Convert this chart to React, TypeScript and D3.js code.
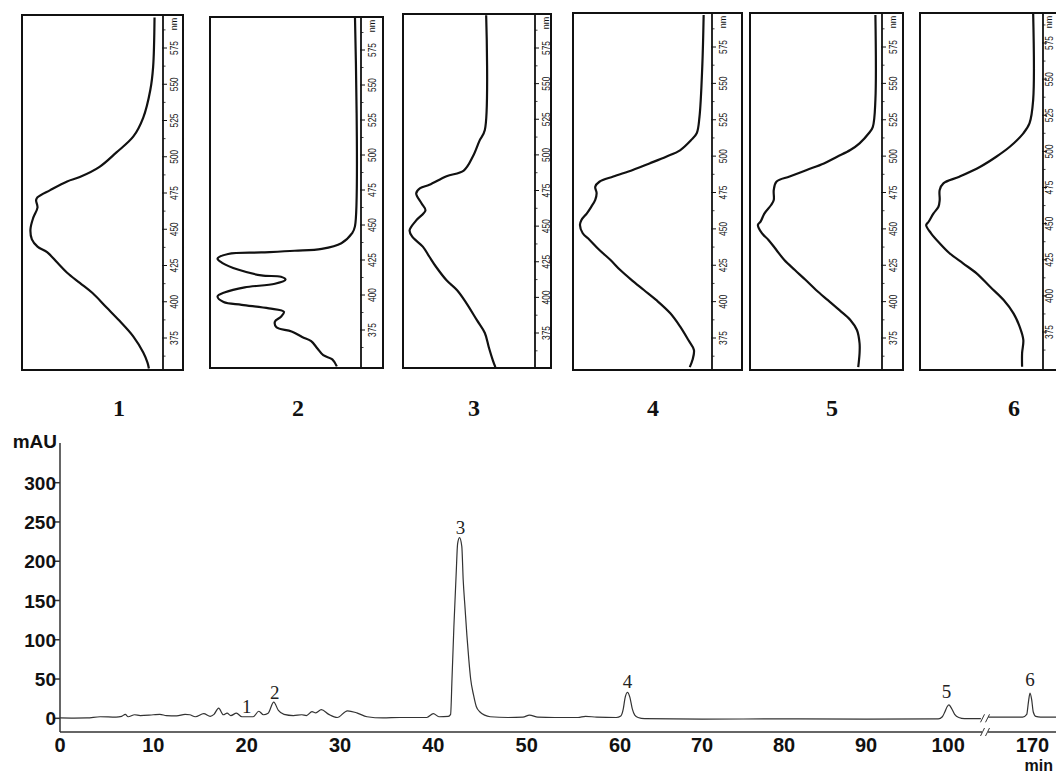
import React from 'react';
import * as d3 from 'd3';

// spectra (wavelength nm, relative absorbance 0..1 of panel width)
const panelLabels = ['1', '2', '3', '4', '5', '6'];
const nmTicks = [375, 400, 425, 450, 475, 500, 525, 550, 575];

const spec1Nm = [596, 562, 546, 527, 514, 503, 493, 486, 483, 477, 472, 470, 465, 458, 450, 443, 438, 434, 427, 420, 413, 406, 396, 387, 376, 365, 358, 354];
const spec1Abs = [0.06, 0.07, 0.09, 0.14, 0.21, 0.33, 0.45, 0.59, 0.68, 0.8, 0.89, 0.9, 0.89, 0.92, 0.94, 0.93, 0.89, 0.82, 0.75, 0.68, 0.59, 0.5, 0.4, 0.31, 0.21, 0.14, 0.11, 0.1];

const spec2Nm = [599, 449, 444, 437, 433, 431.6, 430.4, 429.3, 426, 423, 418, 414, 413, 411, 408, 405.5, 402, 399, 395, 393, 390.5, 388, 384.5, 381, 377, 374, 370, 367, 362, 357, 354, 349];
const spec2Abs = [0.04, 0.04, 0.06, 0.13, 0.26, 0.44, 0.66, 0.88, 0.95, 0.92, 0.81, 0.66, 0.53, 0.5, 0.57, 0.77, 0.9, 0.95, 0.91, 0.79, 0.61, 0.51, 0.53, 0.57, 0.56, 0.46, 0.39, 0.33, 0.29, 0.25, 0.19, 0.16];

const spec3Nm = [598, 517.5, 510, 499, 489, 485, 479, 476.6, 473, 466, 461, 454, 447, 442.6, 435.6, 428.5, 421.5, 412, 405, 396, 384, 375, 365, 356, 351];
const spec3Abs = [0.37, 0.38, 0.42, 0.47, 0.54, 0.67, 0.8, 0.87, 0.9, 0.86, 0.83, 0.9, 0.95, 0.93, 0.85, 0.8, 0.75, 0.67, 0.59, 0.52, 0.44, 0.38, 0.35, 0.32, 0.3];

const spec4Nm = [597, 561.5, 527, 515.7, 511, 504, 499.6, 495, 490.5, 486, 482.4, 479, 474.5, 470, 465, 460.7, 456, 452.7, 447, 442.4, 435.5, 428.6, 421.7, 415, 408, 401, 392, 383, 373.6, 366.8, 360, 355];
const spec4Abs = [0.06, 0.07, 0.09, 0.11, 0.15, 0.23, 0.33, 0.45, 0.57, 0.71, 0.81, 0.84, 0.83, 0.84, 0.87, 0.9, 0.94, 0.95, 0.93, 0.88, 0.81, 0.73, 0.66, 0.58, 0.49, 0.4, 0.3, 0.23, 0.17, 0.13, 0.14, 0.16];

const spec5Nm = [597, 538.6, 520, 515.7, 508.8, 504.2, 499.6, 495, 490.5, 486, 482.4, 476.7, 469.8, 466.4, 460.7, 455, 452.7, 447, 442.4, 435.5, 428.6, 421.7, 415, 408, 401, 394, 387.4, 380.5, 371.4, 364.5, 355];
const spec5Abs = [0.05, 0.05, 0.07, 0.1, 0.17, 0.24, 0.34, 0.44, 0.57, 0.7, 0.8, 0.82, 0.82, 0.84, 0.89, 0.92, 0.94, 0.91, 0.86, 0.8, 0.74, 0.66, 0.58, 0.5, 0.41, 0.32, 0.24, 0.19, 0.17, 0.17, 0.18];

const spec6Nm = [595.5, 535.5, 519.4, 512.5, 503.2, 496.3, 489.4, 482.5, 477.9, 473.3, 466.3, 461.7, 457.1, 451.3, 449, 443.3, 436.4, 429.5, 422.5, 415.6, 406.3, 397.1, 387.9, 378.7, 369.5, 360.3, 351];
const spec6Abs = [0.08, 0.08, 0.11, 0.16, 0.27, 0.38, 0.51, 0.68, 0.81, 0.84, 0.84, 0.85, 0.89, 0.93, 0.95, 0.91, 0.84, 0.76, 0.65, 0.54, 0.43, 0.32, 0.24, 0.19, 0.16, 0.17, 0.17];

// chromatogram
const yTicks = [0, 50, 100, 150, 200, 250, 300];
const xTicks = [0, 10, 20, 30, 40, 50, 60, 70, 80, 90, 100, 170];

const chromTimeA = [0, 1.5, 2.9, 4.3, 6.0, 6.6, 7.0, 7.3, 8.0, 8.6, 10.0, 10.7, 11.4, 12.5, 13.4, 13.9, 14.5, 15.4, 16.1, 16.5, 17.0, 17.5, 17.9, 18.3, 18.9, 19.5, 20.7, 21.3, 21.8, 22.3, 22.9, 23.4, 24.0, 25.0, 25.9, 26.4, 27.0, 27.4, 28.0, 28.8, 29.7, 30.8, 31.8, 32.9, 34.6, 36.4, 39.3, 40.0, 40.6, 41.6, 41.85, 42.0, 42.2, 42.45, 42.6, 42.8, 43.05, 43.2, 43.4, 43.6, 43.8, 44.0, 44.3, 44.6, 45.0, 45.5, 46.1, 48.0, 49.6, 50.3, 51.2, 53.0, 55.5, 56.3, 57.5, 59.6, 60.1, 60.4, 60.6, 60.9, 61.2, 61.5, 61.8, 62.2, 63.0, 70.0, 80.0, 90.0, 98.8, 99.3, 99.6, 99.9, 100.1, 100.4, 100.8, 101.3, 102.0, 104.0];
const chromMauA = [0.5, 0.3, 0.5, 2, 1.5, 2.5, 5, 2, 4.5, 3.5, 4.5, 5, 3.5, 3, 5, 4.5, 2, 6, 2.5, 5, 13, 4.5, 6.5, 3.5, 6.5, 2, 2, 9, 4.5, 6.5, 20.5, 10, 5, 3.5, 4.5, 3.5, 8.5, 7, 11, 5, 1, 9.5, 7, 2, 0.5, 1, 1, 6, 2, 2.5, 5, 50, 116, 185, 222, 230, 219, 176, 140, 105, 75, 50, 30, 15, 8, 4, 2, 1, 1.5, 4, 1.5, 1, 1, 2.5, 1.5, 1, 3, 12, 25, 33, 27, 12, 4, 1, -0.5, -1, -0.8, -1, -0.8, 2, 8, 15, 17, 13, 5, 1, -0.5, -0.5];
const chromTimeB = [164.6, 166, 168.8, 169.3, 169.5, 169.7, 169.9, 170.1, 170.4, 171.0, 173.0];
const chromMauB = [1.5, 1.5, 1.5, 5, 20, 32, 24, 8, 2.5, 1.5, 1.5];

const peakLabels = ['1', '2', '3', '4', '5', '6'];
const peakTimes = [20.0, 23.0, 42.9, 60.9, 99.8, 169.7];
const peakLabelMau = [6.8, 24.6, 235, 38.6, 25.9, 41];

const spectra = [
  [spec1Nm, spec1Abs], [spec2Nm, spec2Abs], [spec3Nm, spec3Abs],
  [spec4Nm, spec4Abs], [spec5Nm, spec5Abs], [spec6Nm, spec6Abs],
];

// panel frames (pixels)
const frames = [
  { left: 22, top: 15, axis: 163, right: 183, bottom: 370, y375: 338, y575: 48, labelX: 119 },
  { left: 210, top: 17, axis: 361, right: 383, bottom: 368, y375: 330, y575: 50, labelX: 298 },
  { left: 403, top: 14, axis: 535, right: 551, bottom: 368, y375: 333, y575: 48, labelX: 474 },
  { left: 573, top: 13, axis: 712, right: 742, bottom: 370, y375: 338, y575: 47, labelX: 653 },
  { left: 750, top: 13, axis: 882, right: 903, bottom: 370, y375: 338, y575: 47, labelX: 832 },
  { left: 920, top: 13, axis: 1043, right: 1070, bottom: 370, y375: 332, y575: 43, labelX: 1014 },
];

const sans = "'Liberation Sans', Arial, Helvetica, sans-serif";
const serif = "'Liberation Serif', 'Times New Roman', serif";

function Spectrum({ f, nm, abs, label }: any) {
  const y = d3.scaleLinear().domain([375, 575]).range([f.y375, f.y575]);
  const x = d3.scaleLinear().domain([0, 1]).range([f.axis, f.left]);
  const pts: [number, number][] = nm.map((n: number, i: number) => [n, abs[i]]);
  const line = d3.line<[number, number]>()
    .x(d => x(d[1]))
    .y(d => y(d[0]))
    .curve(d3.curveCatmullRom.alpha(0.5));
  const minor = d3.range(362.5, 600, 12.5).filter(v => y(v) > f.top + 4 && y(v) < f.bottom - 2 && v % 25 !== 0);
  const lx = Math.min(f.axis + 11, 1049);
  return (
    <g>
      <path d={line(pts) || ''} fill="none" stroke="#111" strokeWidth={2.2} strokeLinejoin="round" />
      <rect x={f.left} y={f.top} width={f.right - f.left} height={f.bottom - f.top} fill="none" stroke="#111" strokeWidth={2} />
      <line x1={f.axis} x2={f.axis} y1={f.top} y2={f.bottom} stroke="#111" strokeWidth={1.8} />
      {nmTicks.map(t => (
        <g key={t}>
          <line x1={f.axis - 1} x2={f.axis + 4} y1={y(t)} y2={y(t)} stroke="#111" strokeWidth={1} />
          <text transform={`translate(${lx},${y(t)}) rotate(-90)`} textAnchor="middle" dy="0.35em"
            fontFamily={sans} fontSize={11} textLength={14} lengthAdjust="spacingAndGlyphs" fill="#111">{t}</text>
        </g>
      ))}
      {minor.map(t => (
        <line key={t} x1={f.axis} x2={f.axis + 2.5} y1={y(t)} y2={y(t)} stroke="#111" strokeWidth={0.8} />
      ))}
      <text transform={`translate(${lx},${f.top + 9}) rotate(-90)`} textAnchor="middle" dy="0.35em"
        fontFamily={sans} fontSize={9} fill="#111">nm</text>
      <text x={f.labelX} y={416} textAnchor="middle" fontFamily={serif} fontWeight="bold" fontSize={24} fill="#111">{label}</text>
    </g>
  );
}

export default function App() {
  const W = 1056, H = 774;
  const x = d3.scaleLinear().domain([0, 60, 104.5, 164.2, 173]).range([60, 620, 985, 985, 1057]);
  const y = d3.scaleLinear().domain([0, 300]).range([718.3, 482.7]);
  const axisY = 732;
  const line = d3.line<[number, number]>().x(d => x(d[0])).y(d => y(d[1])).curve(d3.curveMonotoneX);
  const segA: [number, number][] = chromTimeA.map((t, i) => [t, chromMauA[i]]);
  const segB: [number, number][] = chromTimeB.map((t, i) => [t, chromMauB[i]]);
  const bx = 985;
  const slash = (cx: number, cy: number) => `M${cx - 2},${cy + 4}L${cx + 2},${cy - 4}`;

  return (
    <svg width={W} height={H} style={{ position: 'absolute', left: 0, top: 0, background: '#fff' }}>
      {frames.map((f, i) => (
        <Spectrum key={i} f={f} nm={spectra[i][0]} abs={spectra[i][1]} label={panelLabels[i]} />
      ))}

      {/* chromatogram */}
      <path d={line(segA) || ''} fill="none" stroke="#333" strokeWidth={1.2} />
      <path d={line(segB) || ''} fill="none" stroke="#333" strokeWidth={1.2} />

      <line x1={60} x2={60} y1={443} y2={axisY} stroke="#333" strokeWidth={1.5} />
      <line x1={60} x2={bx - 3} y1={axisY} y2={axisY} stroke="#333" strokeWidth={1.5} />
      <line x1={bx + 3} x2={W} y1={axisY} y2={axisY} stroke="#333" strokeWidth={1.5} />
      <path d={slash(bx - 2.5, y(0)) + slash(bx + 2.5, y(0))} stroke="#333" strokeWidth={1} fill="none" />
      <path d={slash(bx - 2.5, axisY) + slash(bx + 2.5, axisY)} stroke="#333" strokeWidth={1} fill="none" />

      {yTicks.map(t => (
        <g key={t}>
          <line x1={55} x2={60} y1={y(t)} y2={y(t)} stroke="#333" strokeWidth={1.5} />
          <text x={56} y={y(t) + 7} textAnchor="end" fontFamily={sans} fontWeight="bold" fontSize={19} fill="#111">{t}</text>
        </g>
      ))}
      <text x={57} y={448} textAnchor="end" fontFamily={sans} fontWeight="bold" fontSize={19} fill="#111">mAU</text>

      {xTicks.map(t => (
        <text key={t} x={x(t)} y={752} textAnchor="middle" fontFamily={sans} fontWeight="bold" fontSize={20} fill="#111">{t}</text>
      ))}
      <text x={1053} y={771} textAnchor="end" fontFamily={sans} fontWeight="bold" fontSize={16} fill="#111">min</text>

      {peakLabels.map((l, i) => (
        <text key={l} x={x(peakTimes[i])} y={y(peakLabelMau[i])} textAnchor="middle" fontFamily={serif} fontSize={19} fill="#222">{l}</text>
      ))}
    </svg>
  );
}
